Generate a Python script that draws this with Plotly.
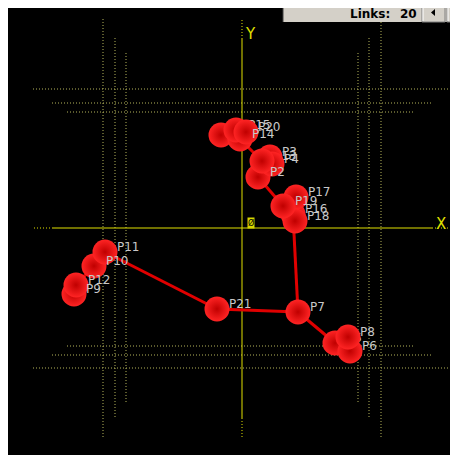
import plotly.graph_objects as go

# ---- data: atom labels and their projected (x, y) coordinates ----
names = ["P1", "P2", "P3", "P4", "P5", "P6", "P7", "P8", "P9", "P10", "P11",
         "P12", "P13", "P14", "P15", "P16", "P17", "P18", "P19", "P20", "P21"]
xs = [-21, 16, 28, 30, 93, 108, 56, 106, -168, -148, -137,
      -166, 20, -2, -6, 51, 54, 53, 41, 4, -25]
ys = [93, 51, 71, 64, -115, -123, -84, -109, -66, -38, -24,
      -57, 67, 89, 98, 14, 31, 7, 22, 96, -81]
links = [("P11", "P21"), ("P10", "P11"), ("P10", "P12"), ("P12", "P9"),
         ("P21", "P7"), ("P7", "P16"), ("P7", "P5"), ("P5", "P8"),
         ("P5", "P6"), ("P16", "P18"), ("P16", "P19"), ("P19", "P17"),
         ("P19", "P2"), ("P2", "P13"), ("P13", "P3"), ("P3", "P4"),
         ("P13", "P14"), ("P14", "P1"), ("P14", "P15"), ("P15", "P20")]
links_count = 20
# labels that sit behind other spheres in the original rendering
hidden_labels = ["P1", "P5", "P13", "P15"]

# ---- pixel helpers for decoration (origin of the view at pixel 242,228) ----
OX, OY = 242, 228
def X(px): return px - OX
def Y(py): return OY - py

idx = {n: i for i, n in enumerate(names)}

fig = go.Figure()

shapes = []
shapes.append(dict(type="rect", x0=X(8), x1=X(460), y0=Y(6), y1=Y(457),
                   fillcolor="black", line_width=0, layer="below"))

dotc = "#b4b45a"
def dline(x0, y0, x1, y1, color=dotc, dash="1px,2px", w=1):
    shapes.append(dict(type="line", x0=X(x0), y0=Y(y0), x1=X(x1), y1=Y(y1),
                       line=dict(color=color, width=w, dash=dash), layer="below"))

# dotted box grid (perspective)
dline(33, 89, 452, 89); dline(52, 103, 432, 103); dline(67, 112, 415, 112)
dline(67, 346, 415, 346); dline(52, 355, 432, 355); dline(33, 368, 452, 368)
dline(103, 19, 103, 437); dline(115, 38, 115, 417); dline(126, 53, 126, 402)
dline(381, 19, 381, 437); dline(369, 38, 369, 417); dline(358, 53, 358, 402)

# axes
axc = "#e0e000"
dline(242, 20, 242, 38, color=axc); dline(242, 418, 242, 437, color=axc)
dline(34, 228, 52, 228, color=axc); dline(432, 228, 452, 228, color=axc)
dline(242, 38, 242, 418, color=axc, dash="solid")
dline(52, 228, 432, 228, color=axc, dash="solid")

# Links widget
shapes.append(dict(type="rect", x0=X(283), x1=X(460), y0=Y(0), y1=Y(22),
                   fillcolor="#d4d0c8", line_width=0, layer="above"))
shapes.append(dict(type="line", x0=X(283), x1=X(283), y0=Y(0), y1=Y(22),
                   line=dict(color="#404040", width=1), layer="above"))
for (b0, b1) in [(422, 445), (447, 470)]:
    shapes.append(dict(type="rect", x0=X(b0), x1=X(b1), y0=Y(3), y1=Y(22),
                       fillcolor="#d4d0c8", line=dict(color="#808080", width=1),
                       layer="above"))
    shapes.append(dict(type="line", x0=X(b0 + 1), x1=X(b0 + 1), y0=Y(4), y1=Y(21),
                       line=dict(color="white", width=1), layer="above"))
shapes.append(dict(type="path",
                   path=f"M {X(431)} {Y(12.5)} L {X(435)} {Y(9)} L {X(435)} {Y(16)} Z",
                   fillcolor="black", line_width=0, layer="above"))
shapes.append(dict(type="path",
                   path=f"M {X(457)} {Y(12.5)} L {X(453)} {Y(9)} L {X(453)} {Y(16)} Z",
                   fillcolor="black", line_width=0, layer="above"))

labfont = dict(family="DejaVu Sans", size=12, color="#c8c8c8")

def label_trace(sel):
    return go.Scatter(
        x=[xs[idx[n]] + 12 for n in sel], y=[ys[idx[n]] + 4 for n in sel],
        mode="text", text=sel, textposition="middle right", textfont=labfont,
        hoverinfo="skip", showlegend=False)

# labels hidden behind spheres
fig.add_trace(label_trace([n for n in names if n in hidden_labels]))

# bonds
bx, by = [], []
for a, b in links:
    bx += [xs[idx[a]], xs[idx[b]], None]
    by += [ys[idx[a]], ys[idx[b]], None]
fig.add_trace(go.Scatter(x=bx, y=by, mode="lines",
                         line=dict(color="#e00000", width=3),
                         hoverinfo="skip", showlegend=False))

# spheres
fig.add_trace(go.Scatter(
    x=xs, y=ys, mode="markers", text=names,
    marker=dict(size=25, color="#ff2424", line_width=0,
                gradient=dict(type="radial", color="#c00000")),
    hoverinfo="text", showlegend=False))

# visible labels on top
fig.add_trace(label_trace([n for n in names if n not in hidden_labels]))

annotations = [
    dict(x=X(441), y=Y(224), text="X", showarrow=False,
         font=dict(family="DejaVu Sans", size=15, color=axc)),
    dict(x=X(250), y=Y(34), text="Y", showarrow=False,
         font=dict(family="DejaVu Sans", size=15, color=axc)),
    dict(x=X(251), y=Y(223), text="Ø", showarrow=False, bgcolor="#d8d800",
         borderpad=0, font=dict(family="DejaVu Sans", size=8, color="black")),
    dict(x=X(392), y=Y(13.5), text="<b>Links:</b>", showarrow=False, xanchor="right",
         font=dict(family="DejaVu Sans", size=12, color="black")),
    dict(x=X(419), y=Y(13.5), text=f"<b>{links_count}</b>", showarrow=False,
         xanchor="right",
         font=dict(family="DejaVu Sans", size=12, color="black")),
]

# the page body adds an 8px offset, so the figure covers page pixels 8..458 / 8..455
fig.update_layout(
    width=450, height=447,
    margin=dict(l=0, r=0, t=0, b=0),
    paper_bgcolor="black", plot_bgcolor="black",
    xaxis=dict(range=[X(8), X(458)], visible=False, fixedrange=True),
    yaxis=dict(range=[Y(455), Y(8)], visible=False, fixedrange=True),
    shapes=shapes, annotations=annotations,
)

fig.write_html("out.html")
